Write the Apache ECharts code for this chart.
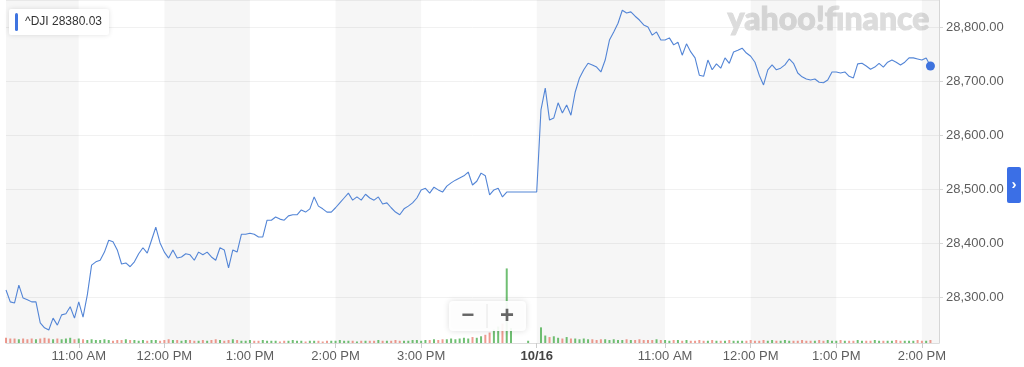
<!DOCTYPE html>
<html><head><meta charset="utf-8">
<script src="https://cdn.jsdelivr.net/npm/echarts@6/dist/echarts.min.js"></script>
<style>html,body{margin:0;padding:0;background:#fff}#c{width:1024px;height:367px}</style>
</head><body><div id="c"></div>
<script>
const symbolName = '^DJI';
const previousClose = '28380.03';
const lastPrice = 28728.06;
const watermarkText = 'yahoo!finance';

// 3-minute samples, 10/15 from 10:09 to 16:00
const day1Prices = [
28314,28292,28290,28323,28299,28296,28292,28292,28253,28244,
28240,28262,28249,28268,28270,28283,28262,28292,28264,28305,
28360,28366,28369,28384,28406,28403,28388,28362,28364,28357,
28366,28381,28392,28382,28406,28430,28401,28384,28373,28388,
28373,28375,28381,28379,28369,28384,28379,28384,28375,28369,
28392,28388,28355,28388,28384,28417,28417,28419,28417,28412,
28412,28443,28443,28449,28445,28443,28451,28453,28453,28462,
28458,28464,28486,28469,28464,28458,28458,28466,28475,28484,
28493,28480,28486,28480,28491,28484,28480,28486,28473,28475,
28466,28458,28453,28464,28469,28475,28484,28499,28502,28493,
28504,28499,28495,28506,28512,28517,28521,28525,28532,28508,
28515,28530,28525,28490,28499,28502,28486,28495];
// flat segment between the close and the next open
const gapPrices = [28495,28495,28495,28495,28495,28495];
// 3-minute samples, 10/16 from 09:30 to 14:12
const day2Prices = [
28495,28647,28687,28628,28632,28660,28641,28656,28637,28680,
28706,28721,28733,28730,28726,28717,28739,28776,28791,28807,
28831,28826,28828,28820,28813,28804,28800,28785,28791,28776,
28776,28780,28767,28772,28748,28769,28754,28743,28711,28709,
28739,28721,28732,28724,28743,28733,28754,28757,28761,28752,
28746,28735,28711,28693,28721,28730,28721,28724,28730,28741,
28733,28715,28708,28704,28702,28704,28698,28697,28702,28717,
28717,28715,28717,28709,28706,28732,28733,28728,28722,28726,
28733,28726,28735,28739,28735,28730,28735,28743,28743,28741,
28739,28743,28728.06,null,null];

const day1Volumes = [
7,6,6,5,6,5,6,5,6,7,
6,5,6,5,6,7,5,6,5,4,
5,4,4,5,4,3,4,4,5,4,
4,3,4,3,4,4,3,4,5,4,
4,3,4,4,3,3,4,3,4,5,
4,3,4,5,4,3,3,4,3,3,
4,3,3,3,2,3,3,4,3,3,
2,3,3,3,2,3,3,3,4,3,
3,3,2,3,3,3,3,4,3,3,
3,4,3,3,3,4,4,3,4,4,
5,4,5,5,6,5,6,7,6,8,
7,9,11,14,18,22,26,100];
const gapVolumes = [20,null,null,null,3,null];
const day2Volumes = [
null,21,10,8,9,7,6,8,6,6,
5,6,5,5,4,5,5,4,5,4,
4,5,4,4,5,4,4,4,5,4,
4,3,4,4,3,4,3,3,4,3,
3,4,3,3,3,4,3,3,3,3,
4,3,3,4,3,4,3,3,4,3,
3,3,4,3,3,3,4,3,4,3,
3,4,3,3,3,4,3,3,3,4,
3,3,3,3,4,3,3,3,3,4,
3,3,4,null,null];

const tickLabels = {
'10/15 11:00':'11:00 AM','10/15 12:00':'12:00 PM','10/15 13:00':'1:00 PM',
'10/15 14:00':'2:00 PM','10/15 15:00':'3:00 PM','10/16 09:30':'10/16',
'10/16 11:00':'11:00 AM','10/16 12:00':'12:00 PM','10/16 13:00':'1:00 PM','10/16 14:00':'2:00 PM'};
const bandRanges = [
['10/15 10:09','10/15 11:00'],['10/15 12:00','10/15 13:00'],['10/15 14:00','10/15 15:00'],
['10/16 09:30','10/16 11:00'],['10/16 12:00','10/16 13:00'],['10/16 14:00','10/16 14:12']];

function fmtTime(day, mins){const h=Math.floor(mins/60),m=mins%60;return day+' '+String(h).padStart(2,'0')+':'+String(m).padStart(2,'0');}
const categories=[];
day1Prices.forEach((_,k)=>categories.push(fmtTime('10/15',10*60+9+3*k)));
gapPrices.forEach((_,k)=>categories.push(fmtTime('10/15',16*60+3+3*k)));
day2Prices.forEach((_,k)=>categories.push(fmtTime('10/16',9*60+30+3*k)));
const prices=[...day1Prices,...gapPrices,...day2Prices];
const volumes=[...day1Volumes,...gapVolumes,...day2Volumes];
let lastIdx=prices.length-1; while(prices[lastIdx]==null) lastIdx--;

const volData = volumes.map((v,k)=>{
  if(v==null) return null;
  const up = k>0 && prices[k]!=null && prices[k-1]!=null && prices[k]>=prices[k-1];
  return {value:v,itemStyle:{color: up ? 'rgba(76,175,80,0.8)' : 'rgba(226,88,70,0.6)'}};
});

const chart = echarts.init(document.getElementById('c'));
const font = '"Liberation Sans", Arial, sans-serif';
chart.setOption({
  animation:false,
  backgroundColor:'#fff',
  grid:{left:6,right:85,top:0,bottom:24,containLabel:false},
  xAxis:{type:'category',data:categories,boundaryGap:false,
    axisLine:{show:true,lineStyle:{color:'#dddddd'}},
    axisTick:{show:true,length:5,interval:(i,v)=>tickLabels[v]!==undefined,lineStyle:{color:'#cccccc'}},
    axisLabel:{interval:(i,v)=>tickLabels[v]!==undefined,formatter:v=>tickLabels[v]==='10/16'?'{b|10/16}':tickLabels[v],
      color:'#5e5e5e',fontSize:13,fontFamily:font,margin:7,
      rich:{b:{fontWeight:'bold',color:'#444',fontSize:13,fontFamily:font}}},
    splitLine:{show:false}},
  yAxis:[{type:'value',position:'right',min:28216,max:28850,splitNumber:6,
    axisLine:{show:true,lineStyle:{color:'#d6d6d6'}},
    axisTick:{show:true,length:4,lineStyle:{color:'#d6d6d6'}},
    axisLabel:{showMinLabel:false,showMaxLabel:false,color:'#5e5e5e',fontSize:13,fontFamily:font,margin:7,
      formatter:v=>v.toLocaleString('en-US',{minimumFractionDigits:2,maximumFractionDigits:2})},
    splitLine:{show:true,lineStyle:{color:'#f1f1f1'}}},
   {type:'value',min:0,max:460,show:false}],
  series:[
    {type:'line',name:'bands',data:prices.map(()=>null),z:0,silent:true,
     markArea:{silent:true,itemStyle:{color:'rgba(0,0,0,0.035)'},
       data:bandRanges.map(r=>[{xAxis:r[0]},{xAxis:r[1]}])}},
    {type:'bar',name:'volume',yAxisIndex:1,data:volData,barWidth:2,z:2,silent:true},
    {type:'line',name:symbolName,data:prices,showSymbol:false,z:3,
     lineStyle:{color:'#5385d6',width:1.1},itemStyle:{color:'#5385d6'},
     markPoint:{silent:true,data:[{coord:[categories[lastIdx],prices[lastIdx]],symbol:'circle',symbolSize:9,
       itemStyle:{color:'#3d72de'},label:{show:false}}]},
     markLine:{silent:true,symbol:'none',lineStyle:{opacity:0},
       label:{position:'end',distance:2,formatter:lastPrice.toFixed(2),backgroundColor:'#3e9f4b',color:'#fff',
         fontSize:13,fontFamily:font,padding:[3,2,2,2]},
       data:[{yAxis:lastPrice}]}}
  ],
  graphic:[
    {type:'text',left:727,top:3,z:1,silent:true,style:{text:watermarkText,font:'900 32px Lato, "Open Sans", sans-serif',fill:'#dcdcdc',stroke:'#dcdcdc',lineWidth:1}},
    {type:'rect',shape:{x:9,y:9,width:100,height:26,r:2},z:10,style:{fill:'#fff',shadowBlur:5,shadowColor:'rgba(0,0,0,0.12)'}},
    {type:'rect',shape:{x:15,y:13,width:3,height:18,r:1.5},z:11,style:{fill:'#3f74e0'}},
    {type:'text',x:25,y:22,z:11,style:{text:symbolName+' '+previousClose,font:'12px '+font,fill:'#333',verticalAlign:'middle'}},
    {type:'rect',shape:{x:449,y:301,width:77,height:30,r:4},z:10,style:{fill:'rgba(255,255,255,0.92)',shadowBlur:6,shadowColor:'rgba(0,0,0,0.15)'}},
    {type:'line',shape:{x1:487,y1:304,x2:487,y2:328},z:11,style:{stroke:'#e6e6e6',lineWidth:1}},
    {type:'text',x:468,y:316,z:11,style:{text:'−',font:'bold 22px '+font,fill:'#666',align:'center',verticalAlign:'middle'}},
    {type:'text',x:507,y:316,z:11,style:{text:'+',font:'bold 24px '+font,fill:'#666',align:'center',verticalAlign:'middle'}},
    {type:'rect',shape:{x:1007,y:167,width:14,height:36,r:2},z:10,style:{fill:'#3b6fe6'}},
    {type:'text',x:1014,y:185,z:11,style:{text:'›',font:'bold 15px '+font,fill:'#fff',align:'center',verticalAlign:'middle'}}
  ]
});
</script></body></html>
